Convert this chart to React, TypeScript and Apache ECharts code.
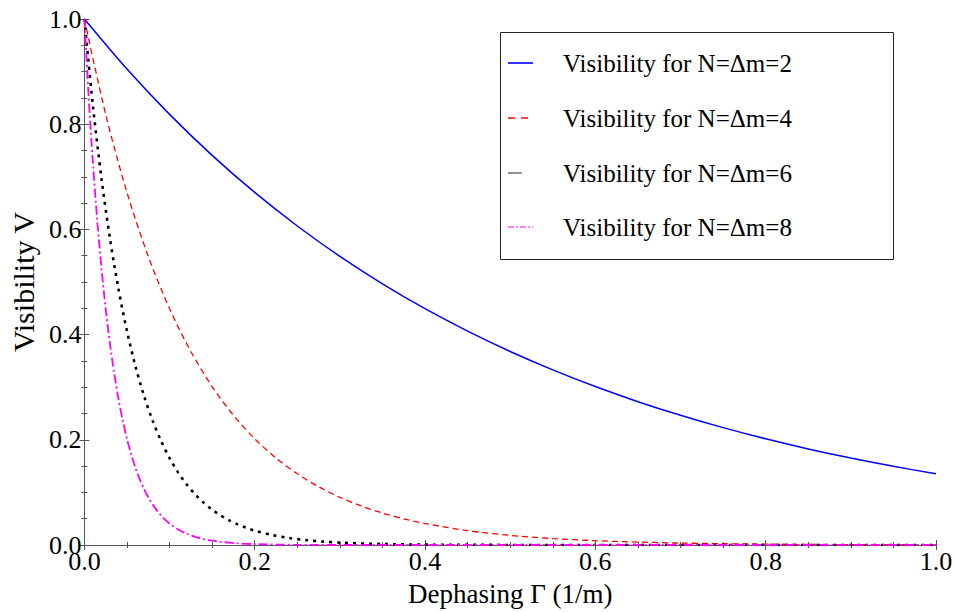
import React, { useEffect, useRef } from "react";
import * as echarts from "echarts";

const seriesNames = [
  "Visibility for N=\u0394m=2",
  "Visibility for N=\u0394m=4",
  "Visibility for N=\u0394m=6",
  "Visibility for N=\u0394m=8",
];

const gammaN2 = [0, 0.05, 0.1, 0.15, 0.2, 0.25, 0.3, 0.35, 0.4, 0.45, 0.5, 0.55, 0.6, 0.65, 0.7, 0.75, 0.8, 0.85, 0.9, 0.95, 1.0];
const visN2 = [1, 0.9048, 0.8187, 0.7408, 0.6703, 0.6065, 0.5488, 0.4966, 0.4493, 0.4066, 0.3679, 0.3329, 0.3012, 0.2725, 0.2466, 0.2231, 0.2019, 0.1827, 0.1653, 0.1496, 0.1353];

const gammaN4 = [0, 0.025, 0.05, 0.075, 0.1, 0.125, 0.15, 0.175, 0.2, 0.225, 0.25, 0.275, 0.3, 0.325, 0.35, 0.375, 0.4, 0.45, 0.5, 0.55, 0.6, 0.65, 0.7, 0.75, 0.8, 0.85, 0.9, 0.95, 1.0];
const visN4 = [1, 0.8187, 0.6703, 0.5488, 0.4493, 0.3679, 0.3012, 0.2466, 0.2019, 0.1653, 0.1353, 0.1108, 0.0907, 0.0743, 0.0608, 0.0498, 0.0408, 0.0273, 0.0183, 0.0123, 0.0082, 0.0055, 0.0037, 0.0025, 0.0017, 0.0011, 0.0007, 0.0005, 0.0003];

const gammaN6 = [0, 0.01, 0.02, 0.03, 0.04, 0.05, 0.06, 0.07, 0.08, 0.09, 0.1, 0.11, 0.12, 0.13, 0.14, 0.15, 0.16, 0.17, 0.18, 0.19, 0.2, 0.22, 0.24, 0.26, 0.28, 0.3, 0.35, 0.4, 0.5, 0.6, 0.8, 1.0];
const visN6 = [1, 0.8353, 0.6977, 0.5827, 0.4868, 0.4066, 0.3396, 0.2837, 0.2369, 0.1979, 0.1653, 0.1381, 0.1153, 0.0963, 0.0805, 0.0672, 0.0561, 0.0469, 0.0392, 0.0327, 0.0273, 0.0191, 0.0133, 0.0093, 0.0065, 0.0045, 0.0018, 0.0007, 0.0001, 0, 0, 0];

const gammaN8 = [0, 0.005, 0.01, 0.015, 0.02, 0.025, 0.03, 0.035, 0.04, 0.045, 0.05, 0.055, 0.06, 0.065, 0.07, 0.075, 0.08, 0.085, 0.09, 0.095, 0.1, 0.11, 0.12, 0.13, 0.14, 0.15, 0.16, 0.18, 0.2, 0.25, 0.3, 0.5, 0.8, 1.0];
const visN8 = [1, 0.8521, 0.7261, 0.6188, 0.5273, 0.4493, 0.3829, 0.3263, 0.278, 0.2369, 0.2019, 0.172, 0.1466, 0.1249, 0.1065, 0.0907, 0.0773, 0.0659, 0.0561, 0.0478, 0.0408, 0.0296, 0.0215, 0.0156, 0.0113, 0.0082, 0.006, 0.0032, 0.0017, 0.0003, 0, 0, 0, 0];

const pairs = (xs: number[], ys: number[]) => xs.map((x, i) => [x, ys[i]]);

const FONT = "Liberation Serif";
const FRAME = "#555";

const lineStyles = [
  { color: "#0000ff", width: 1.5, type: "solid" as any },
  { color: "#ff0000", width: 1.3, type: [6, 4] as any },
  { color: "#000000", width: 2.6, type: [3, 5] as any },
  { color: "#ff00ff", width: 1.8, type: [9, 3, 2, 3] as any },
];

export default function App() {
  const ref = useRef<HTMLDivElement>(null);
  useEffect(() => {
    if (!ref.current) return;
    const chart = echarts.init(ref.current, null, { renderer: "svg" });
    const axisCommon = {
      type: "value",
      min: 0,
      max: 1,
      interval: 0.2,
      axisLine: { show: true, lineStyle: { color: FRAME, width: 1 } },
      axisTick: { show: true, inside: true, length: 5, lineStyle: { color: FRAME } },
      minorTick: { show: true, splitNumber: 4, length: 3, lineStyle: { color: FRAME } },
      splitLine: { show: false },
    };

    // legend drawn as graphic elements
    const legendLeft = 500;
    const legendTop = 32;
    const rowY = [63, 118, 173, 227];
    const iconStyles = [
      { stroke: "#0000ff", lineWidth: 1.6, lineDash: null as any, x2: 533 },
      { stroke: "#ff0000", lineWidth: 1.4, lineDash: [7, 6], x2: 529 },
      { stroke: "#777777", lineWidth: 1.6, lineDash: null as any, x2: 522 },
      { stroke: "#ff00ff", lineWidth: 1.2, lineDash: [6, 2, 2, 2], x2: 533 },
    ];
    const legendElems: any[] = [
      {
        type: "rect",
        shape: { x: legendLeft + 0.5, y: legendTop + 0.5, width: 393, height: 227 },
        style: { fill: "#fff", stroke: "#222", lineWidth: 1 },
        z: 100,
      },
    ];
    seriesNames.forEach((name, i) => {
      const s = iconStyles[i];
      legendElems.push({
        type: "line",
        shape: { x1: 508, y1: rowY[i], x2: s.x2, y2: rowY[i] },
        style: { stroke: s.stroke, lineWidth: s.lineWidth, lineDash: s.lineDash },
        z: 101,
      });
      legendElems.push({
        type: "text",
        x: 563,
        y: rowY[i],
        style: {
          text: name,
          fontFamily: FONT,
          fontSize: 25,
          fill: "#000",
          verticalAlign: "middle",
          align: "left",
        },
        z: 101,
      });
    });

    chart.setOption({
      animation: false,
      backgroundColor: "#fff",
      grid: { left: 80, right: 20, top: 19, bottom: 64, containLabel: false },
      xAxis: [
        {
          ...axisCommon,
          position: "bottom",
          name: "Dephasing \u0393 (1/m)",
          nameLocation: "middle",
          nameGap: 35,
          nameTextStyle: { fontFamily: FONT, fontSize: 27, color: "#000" },
          axisLabel: {
            fontFamily: FONT,
            fontSize: 26,
            color: "#000",
            margin: 3,
            formatter: (v: number) => v.toFixed(1),
          },
        },
        { ...axisCommon, position: "top", axisLabel: { show: false } },
      ],
      yAxis: [
        {
          ...axisCommon,
          position: "left",
          name: "Visibility V",
          nameLocation: "middle",
          nameGap: 42,
          nameRotate: 90,
          nameTextStyle: { fontFamily: FONT, fontSize: 30, color: "#000" },
          axisLabel: {
            fontFamily: FONT,
            fontSize: 26,
            color: "#000",
            margin: 3,
            formatter: (v: number) => v.toFixed(1),
          },
        },
        { ...axisCommon, position: "right", axisLabel: { show: false } },
      ],
      graphic: legendElems,
      series: [gammaN2, gammaN4, gammaN6, gammaN8].map((xs, i) => ({
        name: seriesNames[i],
        type: "line",
        symbol: "none",
        smooth: 0.3,
        data: pairs(xs, [visN2, visN4, visN6, visN8][i]),
        lineStyle: lineStyles[i],
        itemStyle: { color: lineStyles[i].color },
      })),
    });
    return () => chart.dispose();
  }, []);
  return (
    <div
      ref={ref}
      style={{ position: "fixed", left: 0, top: 0, width: 956, height: 612 }}
    />
  );
}
